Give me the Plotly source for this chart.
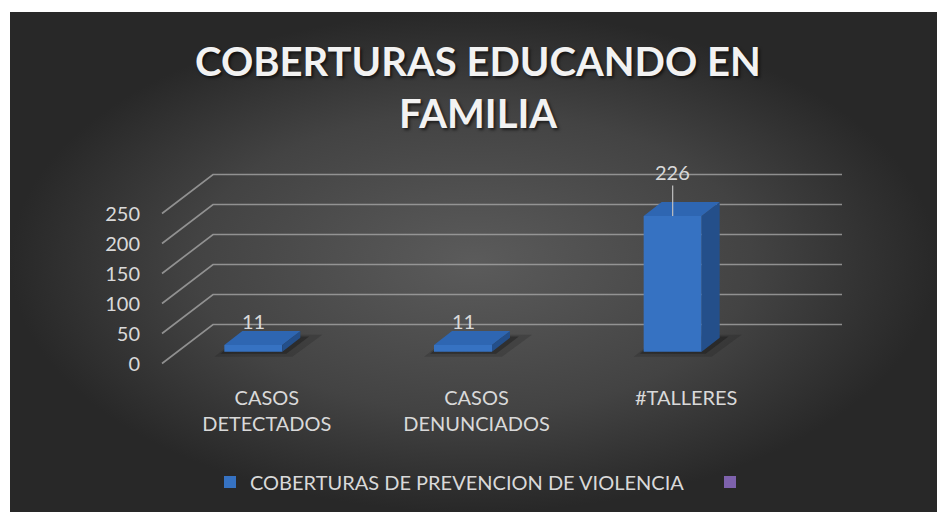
import plotly.graph_objects as go

# ---- data ----
categories = ["CASOS<br>DETECTADOS", "CASOS<br>DENUNCIADOS", "#TALLERES"]
values = [11, 11, 226]
y_ticks = [0, 50, 100, 150, 200, 250]
series_name = "COBERTURAS DE PREVENCION DE VIOLENCIA"
empty_series_name = " "
chart_title = "COBERTURAS EDUCANDO EN<br>FAMILIA"

# ---- geometry (pixel-like x axis, value y axis) ----
W, H = 937, 512
PX_PER_UNIT = 0.6
ZERO_PX = 363.5
def v_at(px):
    return (ZERO_PX - px) / PX_PER_UNIT
Y_RANGE = [v_at(H), v_at(0)]
X_RANGE = [0, W]

FRONT_LEFT, BACK_LEFT, BACK_RIGHT = 162, 213, 842
WALL_DX = BACK_LEFT - FRONT_LEFT
WALL_DY = 39 / PX_PER_UNIT
slot = (BACK_RIGHT - WALL_DX - FRONT_LEFT) / len(categories)
label_x = [FRONT_LEFT + slot * (i + 0.5) for i in range(len(categories))]
bar_x = [lx - 13.5 for lx in label_x]
BAR_W = 58
BAR_BASE = 11.8 / PX_PER_UNIT
TOP_DX = 18
TOP_DY = 14 / PX_PER_UNIT

FONT = "Lato, 'Open Sans', sans-serif"
TXT = "#d9d9d9"

fig = go.Figure()

# background (radial gradient) on base subplot
fig.add_trace(go.Scatter(
    x=[10, W, W, 10, 10], y=[v_at(H), v_at(H), v_at(12), v_at(12), v_at(H)],
    mode="lines", line=dict(width=0), fill="toself",
    fillgradient=dict(type="radial", colorscale=[[0, "#5b5b5b"], [0.6, "#434343"], [1, "#282828"]]),
    hoverinfo="skip", showlegend=False, xaxis="x", yaxis="y"))

# perspective gridlines
gx, gy = [], []
for t in y_ticks:
    gx += [FRONT_LEFT, BACK_LEFT, BACK_RIGHT, None]
    gy += [t, t + WALL_DY, t + WALL_DY, None]
fig.add_trace(go.Scatter(x=gx, y=gy, mode="lines",
                         line=dict(color="rgba(165,165,165,0.8)", width=1.7),
                         hoverinfo="skip", showlegend=False, xaxis="x", yaxis="y"))

# soft shadows under bars
for spread, alpha in [(10, 0.18), (4, 0.35)]:
    sx, sy = [], []
    for cx, v in zip(bar_x, values):
        x0, x1 = cx - BAR_W / 2, cx + BAR_W / 2
        d = spread / PX_PER_UNIT
        sx += [x0 - spread, x1 + spread, x1 + TOP_DX + spread * 2.2, x0 + TOP_DX, x0 - spread, None]
        sy += [BAR_BASE - d * 0.5, BAR_BASE - d * 0.5, BAR_BASE + TOP_DY + d * 0.3,
               BAR_BASE + TOP_DY + d * 0.3, BAR_BASE - d * 0.5, None]
    fig.add_trace(go.Scatter(x=sx, y=sy, mode="lines", line=dict(width=0), fill="toself",
                             fillcolor=f"rgba(15,15,15,{alpha})", hoverinfo="skip",
                             showlegend=False, xaxis="x", yaxis="y"))

# front faces of the bars
fig.add_trace(go.Bar(x=bar_x, y=values, base=[BAR_BASE] * len(values), width=BAR_W,
                     marker=dict(color="#3672c2", line=dict(width=0)),
                     name=series_name, legend="legend", xaxis="x2", yaxis="y2"))
fig.add_trace(go.Bar(x=bar_x, y=[None] * len(values), width=BAR_W,
                     marker=dict(color="#7e62ad", line=dict(width=0)),
                     name=empty_series_name, legend="legend2", xaxis="x2", yaxis="y2"))

# side and top faces
side_x, side_y, top_x, top_y = [], [], [], []
for cx, v in zip(bar_x, values):
    x0, x1 = cx - BAR_W / 2, cx + BAR_W / 2
    top = BAR_BASE + v
    side_x += [x1, x1, x1 + TOP_DX, x1 + TOP_DX, x1, None]
    side_y += [BAR_BASE, top, top + TOP_DY, BAR_BASE + TOP_DY, BAR_BASE, None]
    top_x += [x0, x1, x1 + TOP_DX, x0 + TOP_DX, x0, None]
    top_y += [top, top, top + TOP_DY, top + TOP_DY, top, None]
fig.add_trace(go.Scatter(x=side_x, y=side_y, mode="lines", line=dict(width=0), fill="toself",
                         fillcolor="#244f8a", hoverinfo="skip", showlegend=False,
                         xaxis="x2", yaxis="y2"))
fig.add_trace(go.Scatter(x=top_x, y=top_y, mode="lines", line=dict(width=0), fill="toself",
                         fillcolor="#2e66b2", hoverinfo="skip", showlegend=False,
                         xaxis="x2", yaxis="y2"))

# data labels
for cx, v in zip(bar_x, values):
    top = BAR_BASE + v
    if v > 100:
        fig.add_annotation(x=cx, y=top, xref="x2", yref="y2", text=str(v),
                           showarrow=True, arrowhead=0, arrowwidth=1.2, arrowcolor="#bfbfbf",
                           ax=0, ay=-44, standoff=0,
                           font=dict(family=FONT, size=20, color=TXT))
    else:
        fig.add_annotation(x=cx, y=top, xref="x2", yref="y2", text=str(v),
                           showarrow=False, yanchor="bottom", yshift=10,
                           font=dict(family=FONT, size=20, color=TXT))

legend_style = dict(orientation="h", xanchor="left", y=1 - 482 / H, yanchor="middle",
                    font=dict(family=FONT, size=20, color=TXT), bgcolor="rgba(0,0,0,0)")

fig.update_layout(
    width=W, height=H,
    margin=dict(l=0, r=0, t=0, b=0),
    paper_bgcolor="white", plot_bgcolor="rgba(0,0,0,0)",
    title=dict(text=chart_title, x=478 / W, xanchor="center", y=1 - 76 / H, yanchor="top",
               yref="container",
               font=dict(family=FONT, size=40, color="#f2f2f2", weight="bold",
                         shadow="2px 2px 3px rgba(0,0,0,0.6)")),
    xaxis=dict(range=X_RANGE, visible=False, fixedrange=True),
    yaxis=dict(range=Y_RANGE, tickvals=y_ticks, ticktext=[str(t) for t in y_ticks],
               showgrid=False, zeroline=False, showline=False, ticks="",
               anchor="free", position=140 / W,
               tickfont=dict(family=FONT, size=20, color=TXT), fixedrange=True),
    xaxis2=dict(range=X_RANGE, overlaying="x", anchor="free", position=1 - 384 / H,
                tickvals=label_x, ticktext=categories, showgrid=False, zeroline=False,
                showline=False, ticks="", tickfont=dict(family=FONT, size=20, color=TXT),
                fixedrange=True),
    yaxis2=dict(range=Y_RANGE, overlaying="y", visible=False, fixedrange=True),
    barmode="overlay",
    showlegend=True,
    legend=dict(x=210 / W, **legend_style),
    legend2=dict(x=710 / W, **legend_style),
)

fig.write_html("out.html", config={"displayModeBar": False},
               post_script="document.body.style.margin='0';")
